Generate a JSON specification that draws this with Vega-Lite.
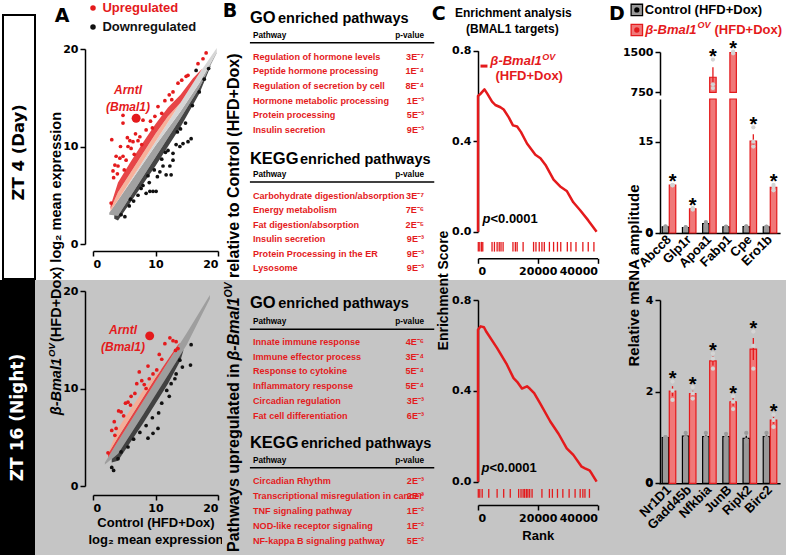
{
"$schema":"https://vega.github.io/schema/vega-lite/v6.json",
"background":"white",
"padding":0,
"spacing":0,
"bounds":"flush",
"columns":5,
"config":{
 "font":"Liberation Sans",
 "view":{"stroke":null},
 "concat":{"spacing":0},
 "axis":{"grid":false,"domainColor":"#000000","domainWidth":1.5,"tickColor":"#000000","tickWidth":1.5,"tickSize":5,"labelColor":"#000000","labelFont":"DejaVu Sans","labelFontSize":11,"labelFontWeight":"bold","labelPadding":2,"labelOverlap":false,"titleFont":"Liberation Sans","titleFontWeight":"bold","titleColor":"#000000","titleFontSize":13},
 "text":{"font":"Liberation Sans","fontWeight":"bold","color":"#000000"}
},
"datasets":{
 "scatter":[
  {"t":"ZT4","c":"up","x":18.1,"y":19.6},{"t":"ZT4","c":"up","x":17.6,"y":19.0},{"t":"ZT4","c":"up","x":16.8,"y":18.5},{"t":"ZT4","c":"up","x":15.2,"y":17.3},{"t":"ZT4","c":"up","x":14.9,"y":17.2},{"t":"ZT4","c":"up","x":14.2,"y":16.8},{"t":"ZT4","c":"up","x":13.6,"y":16.5},{"t":"ZT4","c":"up","x":12.8,"y":15.6},{"t":"ZT4","c":"up","x":12.2,"y":15.3},{"t":"ZT4","c":"up","x":11.5,"y":14.7},{"t":"ZT4","c":"up","x":10.4,"y":14.1},{"t":"ZT4","c":"up","x":9.9,"y":13.1},{"t":"ZT4","c":"up","x":8.5,"y":11.7},{"t":"ZT4","c":"up","x":8.0,"y":12.7},{"t":"ZT4","c":"up","x":4.8,"y":13.2},{"t":"ZT4","c":"up","x":4.8,"y":12.4},{"t":"ZT4","c":"up","x":3.0,"y":10.7},{"t":"ZT4","c":"up","x":4.4,"y":10.0},{"t":"ZT4","c":"up","x":5.5,"y":10.9},{"t":"ZT4","c":"up","x":5.9,"y":10.6},{"t":"ZT4","c":"up","x":6.4,"y":10.5},{"t":"ZT4","c":"up","x":7.2,"y":10.6},{"t":"ZT4","c":"up","x":5.6,"y":10.0},{"t":"ZT4","c":"up","x":6.1,"y":9.8},{"t":"ZT4","c":"up","x":3.7,"y":9.0},{"t":"ZT4","c":"up","x":4.3,"y":8.8},{"t":"ZT4","c":"up","x":4.8,"y":9.0},{"t":"ZT4","c":"up","x":5.3,"y":8.6},{"t":"ZT4","c":"up","x":3.5,"y":8.1},{"t":"ZT4","c":"up","x":4.0,"y":8.0},{"t":"ZT4","c":"up","x":2.9,"y":4.2},{"t":"ZT4","c":"up","x":6.8,"y":11.3},{"t":"ZT4","c":"up","x":7.5,"y":11.0},{"t":"ZT4","c":"up","x":9.2,"y":12.6},{"t":"ZT4","c":"up","x":3.3,"y":6.8},{"t":"ZT4","c":"up","x":3.2,"y":7.5},{"t":"ZT4","c":"up","x":3.9,"y":7.2},{"t":"ZT4","c":"up","x":6.6,"y":9.2},{"t":"ZT4","c":"up","x":7.8,"y":10.2},{"t":"ZT4","c":"up","x":9.5,"y":11.9},{"t":"ZT4","c":"up","x":11.0,"y":13.4},{"t":"ZT4","c":"up","x":12.6,"y":14.8},{"t":"ZT4","c":"up","x":5.0,"y":7.6},
  {"t":"ZT4","c":"down","x":16.5,"y":17.8},{"t":"ZT4","c":"down","x":15.7,"y":10.8},{"t":"ZT4","c":"down","x":15.2,"y":10.5},{"t":"ZT4","c":"down","x":14.4,"y":10.3},{"t":"ZT4","c":"down","x":13.9,"y":10.0},{"t":"ZT4","c":"down","x":12.8,"y":9.3},{"t":"ZT4","c":"down","x":12.8,"y":8.6},{"t":"ZT4","c":"down","x":12.3,"y":8.0},{"t":"ZT4","c":"down","x":12.5,"y":7.1},{"t":"ZT4","c":"down","x":11.7,"y":7.1},{"t":"ZT4","c":"down","x":10.7,"y":7.4},{"t":"ZT4","c":"down","x":10.1,"y":5.4},{"t":"ZT4","c":"down","x":9.6,"y":5.4},{"t":"ZT4","c":"down","x":8.5,"y":5.2},{"t":"ZT4","c":"down","x":9.1,"y":5.4},{"t":"ZT4","c":"down","x":7.7,"y":5.7},{"t":"ZT4","c":"down","x":4.5,"y":3.0},{"t":"ZT4","c":"down","x":5.1,"y":2.8},{"t":"ZT4","c":"down","x":11.2,"y":8.0},{"t":"ZT4","c":"down","x":13.3,"y":10.2},{"t":"ZT4","c":"down","x":14.8,"y":12.4},{"t":"ZT4","c":"down","x":15.9,"y":14.2},{"t":"ZT4","c":"down","x":17.0,"y":15.6},{"t":"ZT4","c":"down","x":10.3,"y":6.9},{"t":"ZT4","c":"down","x":9.0,"y":6.3},{"t":"ZT4","c":"down","x":8.0,"y":6.0},{"t":"ZT4","c":"down","x":6.5,"y":4.4},{"t":"ZT4","c":"down","x":5.8,"y":3.9},{"t":"ZT4","c":"down","x":13.5,"y":11.5},{"t":"ZT4","c":"down","x":12.0,"y":9.6},{"t":"ZT4","c":"down","x":11.0,"y":8.7},{"t":"ZT4","c":"down","x":17.8,"y":16.9},{"t":"ZT4","c":"down","x":18.5,"y":18.0},{"t":"ZT4","c":"down","x":7.2,"y":5.0},{"t":"ZT4","c":"down","x":6.0,"y":4.6},{"t":"ZT4","c":"down","x":8.8,"y":7.0},{"t":"ZT4","c":"down","x":9.8,"y":7.6},{"t":"ZT4","c":"down","x":11.6,"y":9.4},{"t":"ZT4","c":"down","x":14.0,"y":11.8},
  {"t":"ZT4","c":"arntl","x":6.9,"y":12.9},
  {"t":"ZT16","c":"up","x":12.3,"y":15.2},{"t":"ZT16","c":"up","x":12.8,"y":14.9},{"t":"ZT16","c":"up","x":13.3,"y":14.8},{"t":"ZT16","c":"up","x":11.5,"y":14.6},{"t":"ZT16","c":"up","x":13.6,"y":14.1},{"t":"ZT16","c":"up","x":13.2,"y":13.9},{"t":"ZT16","c":"up","x":10.6,"y":13.5},{"t":"ZT16","c":"up","x":8.8,"y":12.3},{"t":"ZT16","c":"up","x":7.4,"y":11.7},{"t":"ZT16","c":"up","x":10.2,"y":11.9},{"t":"ZT16","c":"up","x":9.6,"y":11.5},{"t":"ZT16","c":"up","x":7.0,"y":10.5},{"t":"ZT16","c":"up","x":8.2,"y":10.4},{"t":"ZT16","c":"up","x":8.5,"y":10.0},{"t":"ZT16","c":"up","x":6.7,"y":9.5},{"t":"ZT16","c":"up","x":6.1,"y":9.2},{"t":"ZT16","c":"up","x":5.2,"y":8.5},{"t":"ZT16","c":"up","x":5.6,"y":8.6},{"t":"ZT16","c":"up","x":4.1,"y":7.7},{"t":"ZT16","c":"up","x":4.5,"y":7.6},{"t":"ZT16","c":"up","x":3.4,"y":6.6},{"t":"ZT16","c":"up","x":3.0,"y":5.7},{"t":"ZT16","c":"up","x":3.7,"y":5.9},{"t":"ZT16","c":"up","x":3.5,"y":5.2},{"t":"ZT16","c":"up","x":2.4,"y":3.4},{"t":"ZT16","c":"up","x":7.8,"y":10.8},{"t":"ZT16","c":"up","x":9.0,"y":11.0},{"t":"ZT16","c":"up","x":11.0,"y":13.0},{"t":"ZT16","c":"up","x":4.9,"y":7.2},{"t":"ZT16","c":"up","x":6.0,"y":8.3},
  {"t":"ZT16","c":"down","x":15.7,"y":14.5},{"t":"ZT16","c":"down","x":13.9,"y":12.9},{"t":"ZT16","c":"down","x":15.6,"y":12.4},{"t":"ZT16","c":"down","x":13.3,"y":11.5},{"t":"ZT16","c":"down","x":13.1,"y":11.0},{"t":"ZT16","c":"down","x":10.4,"y":5.9},{"t":"ZT16","c":"down","x":9.6,"y":5.4},{"t":"ZT16","c":"down","x":8.8,"y":4.9},{"t":"ZT16","c":"down","x":5.6,"y":4.0},{"t":"ZT16","c":"down","x":4.5,"y":3.5},{"t":"ZT16","c":"down","x":4.0,"y":2.8},{"t":"ZT16","c":"down","x":3.0,"y":1.9},{"t":"ZT16","c":"down","x":3.3,"y":1.6},{"t":"ZT16","c":"down","x":12.5,"y":10.5},{"t":"ZT16","c":"down","x":11.8,"y":9.8},{"t":"ZT16","c":"down","x":11.0,"y":8.5},{"t":"ZT16","c":"down","x":10.5,"y":7.5},{"t":"ZT16","c":"down","x":9.5,"y":7.0},{"t":"ZT16","c":"down","x":8.5,"y":6.2},{"t":"ZT16","c":"down","x":7.5,"y":5.5},{"t":"ZT16","c":"down","x":6.5,"y":4.8},{"t":"ZT16","c":"down","x":12.2,"y":9.2},{"t":"ZT16","c":"down","x":14.3,"y":12.2},
  {"t":"ZT16","c":"arntl","x":9.07,"y":15.4}
 ],
 "bands":[
  {"t":"ZT4","band":"gray","x":2.6,"lo":3.0,"hi":3.2},{"t":"ZT4","band":"gray","x":4,"lo":2.9,"hi":4.5},{"t":"ZT4","band":"gray","x":10,"lo":8.9,"hi":10.1},{"t":"ZT4","band":"gray","x":14,"lo":12.9,"hi":13.6},{"t":"ZT4","band":"gray","x":17,"lo":16.0,"hi":16.5},{"t":"ZT4","band":"gray","x":19.8,"lo":19.6,"hi":19.7},
  {"t":"ZT4","band":"light","x":4,"lo":4.5,"hi":4.5},{"t":"ZT4","band":"light","x":10,"lo":10.1,"hi":10.5},{"t":"ZT4","band":"light","x":14,"lo":13.6,"hi":14.5},{"t":"ZT4","band":"light","x":17,"lo":16.5,"hi":17.5},{"t":"ZT4","band":"light","x":19.8,"lo":19.7,"hi":20.1},
  {"t":"ZT4","band":"salmon","x":2.8,"lo":3.39,"hi":3.6},{"t":"ZT4","band":"salmon","x":4,"lo":4.5,"hi":5.3},{"t":"ZT4","band":"salmon","x":10,"lo":10.5,"hi":11.3},{"t":"ZT4","band":"salmon","x":12,"lo":12.5,"hi":13.1},{"t":"ZT4","band":"salmon","x":14,"lo":14.5,"hi":14.5},
  {"t":"ZT4","band":"red","x":2.8,"lo":3.6,"hi":3.9},{"t":"ZT4","band":"red","x":4,"lo":5.3,"hi":6.3},{"t":"ZT4","band":"red","x":6,"lo":7.3,"hi":8.4},{"t":"ZT4","band":"red","x":8,"lo":9.3,"hi":10.4},{"t":"ZT4","band":"red","x":10,"lo":11.3,"hi":12.3},{"t":"ZT4","band":"red","x":12,"lo":13.1,"hi":14.0},{"t":"ZT4","band":"red","x":14,"lo":14.5,"hi":15.3},{"t":"ZT4","band":"red","x":16,"lo":16.5,"hi":17.0},{"t":"ZT4","band":"red","x":17.5,"lo":18.0,"hi":18.0},
  {"t":"ZT4","band":"black","x":3.4,"lo":2.6,"hi":2.94},{"t":"ZT4","band":"black","x":4,"lo":2.4,"hi":2.9},{"t":"ZT4","band":"black","x":10,"lo":8.0,"hi":8.9},{"t":"ZT4","band":"black","x":14,"lo":12.0,"hi":12.9},{"t":"ZT4","band":"black","x":17,"lo":15.4,"hi":16.0},{"t":"ZT4","band":"black","x":18.8,"lo":18.2,"hi":18.3},
  {"t":"ZT16","band":"gray","x":1.9,"lo":2.2,"hi":2.4},{"t":"ZT16","band":"gray","x":4,"lo":3.3,"hi":4.6},{"t":"ZT16","band":"gray","x":10,"lo":9.3,"hi":10.7},{"t":"ZT16","band":"gray","x":15,"lo":14.5,"hi":15.7},{"t":"ZT16","band":"gray","x":18.7,"lo":19.2,"hi":19.6},
  {"t":"ZT16","band":"red","x":2.4,"lo":2.92,"hi":3.3},{"t":"ZT16","band":"red","x":4,"lo":4.6,"hi":5.0},{"t":"ZT16","band":"red","x":10,"lo":10.7,"hi":11.1},{"t":"ZT16","band":"red","x":13.6,"lo":14.3,"hi":14.5},{"t":"ZT16","band":"red","x":14,"lo":14.7,"hi":14.7},
  {"t":"ZT16","band":"salmon","x":2.5,"lo":3.35,"hi":3.5},{"t":"ZT16","band":"salmon","x":4,"lo":5.0,"hi":5.9},{"t":"ZT16","band":"salmon","x":8,"lo":9.07,"hi":9.8},{"t":"ZT16","band":"salmon","x":10,"lo":11.1,"hi":11.4},{"t":"ZT16","band":"salmon","x":11,"lo":11.99,"hi":11.99},
  {"t":"ZT16","band":"black","x":3.0,"lo":2.4,"hi":2.78},{"t":"ZT16","band":"black","x":4,"lo":2.6,"hi":3.3},{"t":"ZT16","band":"black","x":8,"lo":6.4,"hi":7.3},{"t":"ZT16","band":"black","x":12,"lo":10.5,"hi":11.38},{"t":"ZT16","band":"black","x":14,"lo":12.9,"hi":13.46},{"t":"ZT16","band":"black","x":14.5,"lo":13.98,"hi":13.98}
 ],
 "gsea":[
  {"t":"ZT4","i":0,"rank":0,"es":0},{"t":"ZT4","i":1,"rank":0,"es":0.60},{"t":"ZT4","i":2,"rank":900,"es":0.61},{"t":"ZT4","i":3,"rank":2170,"es":0.629},{"t":"ZT4","i":4,"rank":3100,"es":0.61},{"t":"ZT4","i":5,"rank":4700,"es":0.575},{"t":"ZT4","i":6,"rank":5800,"es":0.56},{"t":"ZT4","i":7,"rank":7500,"es":0.55},{"t":"ZT4","i":8,"rank":8600,"es":0.54},{"t":"ZT4","i":9,"rank":10300,"es":0.505},{"t":"ZT4","i":10,"rank":11700,"es":0.47},{"t":"ZT4","i":11,"rank":13100,"es":0.465},{"t":"ZT4","i":12,"rank":14400,"es":0.44},{"t":"ZT4","i":13,"rank":16400,"es":0.39},{"t":"ZT4","i":14,"rank":19200,"es":0.34},{"t":"ZT4","i":15,"rank":20900,"es":0.325},{"t":"ZT4","i":16,"rank":22600,"es":0.295},{"t":"ZT4","i":17,"rank":25300,"es":0.23},{"t":"ZT4","i":18,"rank":27500,"es":0.2},{"t":"ZT4","i":19,"rank":29700,"es":0.18},{"t":"ZT4","i":20,"rank":31900,"es":0.13},{"t":"ZT4","i":21,"rank":34200,"es":0.095},{"t":"ZT4","i":22,"rank":36900,"es":0.05},{"t":"ZT4","i":23,"rank":39700,"es":0.0},
  {"t":"ZT16","i":0,"rank":0,"es":0},{"t":"ZT16","i":1,"rank":0,"es":0.669},{"t":"ZT16","i":2,"rank":900,"es":0.684},{"t":"ZT16","i":3,"rank":2000,"es":0.68},{"t":"ZT16","i":4,"rank":2800,"es":0.66},{"t":"ZT16","i":5,"rank":6400,"es":0.588},{"t":"ZT16","i":6,"rank":9700,"es":0.515},{"t":"ZT16","i":7,"rank":11900,"es":0.456},{"t":"ZT16","i":8,"rank":13100,"es":0.44},{"t":"ZT16","i":9,"rank":14700,"es":0.41},{"t":"ZT16","i":10,"rank":16400,"es":0.42},{"t":"ZT16","i":11,"rank":17300,"es":0.41},{"t":"ZT16","i":12,"rank":18800,"es":0.39},{"t":"ZT16","i":13,"rank":20800,"es":0.345},{"t":"ZT16","i":14,"rank":24200,"es":0.265},{"t":"ZT16","i":15,"rank":27000,"es":0.21},{"t":"ZT16","i":16,"rank":29700,"es":0.147},{"t":"ZT16","i":17,"rank":31900,"es":0.118},{"t":"ZT16","i":18,"rank":34700,"es":0.066},{"t":"ZT16","i":19,"rank":35800,"es":0.059},{"t":"ZT16","i":20,"rank":37300,"es":0.05},{"t":"ZT16","i":21,"rank":38000,"es":0.037},{"t":"ZT16","i":22,"rank":39700,"es":0}
 ],
 "hits":[
  {"t":"ZT4","rank":100},{"t":"ZT4","rank":600},{"t":"ZT4","rank":1200},{"t":"ZT4","rank":1600},{"t":"ZT4","rank":4700},{"t":"ZT4","rank":5500},{"t":"ZT4","rank":6400},{"t":"ZT4","rank":7100},{"t":"ZT4","rank":7700},{"t":"ZT4","rank":8400},{"t":"ZT4","rank":11700},{"t":"ZT4","rank":12500},{"t":"ZT4","rank":13100},{"t":"ZT4","rank":15100},{"t":"ZT4","rank":18600},{"t":"ZT4","rank":19400},{"t":"ZT4","rank":20500},{"t":"ZT4","rank":21400},{"t":"ZT4","rank":22200},{"t":"ZT4","rank":23900},{"t":"ZT4","rank":25300},{"t":"ZT4","rank":26600},{"t":"ZT4","rank":27700},{"t":"ZT4","rank":29900},{"t":"ZT4","rank":31100},{"t":"ZT4","rank":32800},{"t":"ZT4","rank":35100},{"t":"ZT4","rank":36900},{"t":"ZT4","rank":38800},
  {"t":"ZT16","rank":100},{"t":"ZT16","rank":600},{"t":"ZT16","rank":1400},{"t":"ZT16","rank":3600},{"t":"ZT16","rank":6400},{"t":"ZT16","rank":8600},{"t":"ZT16","rank":10800},{"t":"ZT16","rank":13600},{"t":"ZT16","rank":14400},{"t":"ZT16","rank":15100},{"t":"ZT16","rank":15600},{"t":"ZT16","rank":16200},{"t":"ZT16","rank":16700},{"t":"ZT16","rank":17300},{"t":"ZT16","rank":18100},{"t":"ZT16","rank":21400},{"t":"ZT16","rank":23900},{"t":"ZT16","rank":24900},{"t":"ZT16","rank":26600},{"t":"ZT16","rank":28400},{"t":"ZT16","rank":30500},{"t":"ZT16","rank":32500},{"t":"ZT16","rank":34200},{"t":"ZT16","rank":35100},{"t":"ZT16","rank":35800},{"t":"ZT16","rank":37300}
 ],
 "paths":[
  {"t":"ZT4","db":"GO","rank":1,"pathway":"Regulation of hormone levels","p":"3E⁻⁷"},
  {"t":"ZT4","db":"GO","rank":2,"pathway":"Peptide hormone processing","p":"1E⁻⁴"},
  {"t":"ZT4","db":"GO","rank":3,"pathway":"Regulation of secretion by cell","p":"8E⁻⁴"},
  {"t":"ZT4","db":"GO","rank":4,"pathway":"Hormone metabolic processing","p":"1E⁻³"},
  {"t":"ZT4","db":"GO","rank":5,"pathway":"Protein processing","p":"5E⁻³"},
  {"t":"ZT4","db":"GO","rank":6,"pathway":"Insulin secretion","p":"9E⁻³"},
  {"t":"ZT4","db":"KEGG","rank":1,"pathway":"Carbohydrate digestion/absorption","p":"3E⁻⁷"},
  {"t":"ZT4","db":"KEGG","rank":2,"pathway":"Energy metabolism","p":"7E⁻⁶"},
  {"t":"ZT4","db":"KEGG","rank":3,"pathway":"Fat digestion/absorption","p":"2E⁻⁵"},
  {"t":"ZT4","db":"KEGG","rank":4,"pathway":"Insulin secretion","p":"9E⁻³"},
  {"t":"ZT4","db":"KEGG","rank":5,"pathway":"Protein Processing in the ER","p":"9E⁻³"},
  {"t":"ZT4","db":"KEGG","rank":6,"pathway":"Lysosome","p":"9E⁻³"},
  {"t":"ZT16","db":"GO","rank":1,"pathway":"Innate immune response","p":"4E⁻⁶"},
  {"t":"ZT16","db":"GO","rank":2,"pathway":"Immune effector process","p":"3E⁻⁴"},
  {"t":"ZT16","db":"GO","rank":3,"pathway":"Response to cytokine","p":"5E⁻⁴"},
  {"t":"ZT16","db":"GO","rank":4,"pathway":"Inflammatory response","p":"5E⁻⁴"},
  {"t":"ZT16","db":"GO","rank":5,"pathway":"Circadian regulation","p":"3E⁻³"},
  {"t":"ZT16","db":"GO","rank":6,"pathway":"Fat cell differentiation","p":"6E⁻³"},
  {"t":"ZT16","db":"KEGG","rank":1,"pathway":"Circadian Rhythm","p":"2E⁻³"},
  {"t":"ZT16","db":"KEGG","rank":2,"pathway":"Transcriptional misregulation in cancer","p":"2E⁻³"},
  {"t":"ZT16","db":"KEGG","rank":3,"pathway":"TNF signaling pathway","p":"1E⁻²"},
  {"t":"ZT16","db":"KEGG","rank":4,"pathway":"NOD-like receptor signaling","p":"1E⁻²"},
  {"t":"ZT16","db":"KEGG","rank":5,"pathway":"NF-kappa B signaling pathway","p":"5E⁻²"}
 ],
 "bars":[
  {"panel":"top","gene":"Abcc8","group":"Control","mean":1.0,"lo":0.95,"hi":1.05},{"panel":"top","gene":"Abcc8","group":"OV","mean":7.85,"lo":7.8,"hi":7.9},
  {"panel":"top","gene":"Glp1r","group":"Control","mean":0.9,"lo":0.87,"hi":0.93},{"panel":"top","gene":"Glp1r","group":"OV","mean":3.95,"lo":3.88,"hi":4.03},
  {"panel":"top","gene":"Apoa1","group":"Control","mean":1.55,"lo":1.4,"hi":1.7},{"panel":"top","gene":"Apoa1","group":"OV","mean":1030,"lo":845,"hi":1215},
  {"panel":"top","gene":"Fabp1","group":"Control","mean":1.0,"lo":0.97,"hi":1.03},{"panel":"top","gene":"Fabp1","group":"OV","mean":1490,"lo":1480,"hi":1500},
  {"panel":"top","gene":"Cpe","group":"Control","mean":1.05,"lo":1.02,"hi":1.08},{"panel":"top","gene":"Cpe","group":"OV","mean":15.1,"lo":14.0,"hi":16.2},
  {"panel":"top","gene":"Ero1b","group":"Control","mean":1.0,"lo":0.97,"hi":1.03},{"panel":"top","gene":"Ero1b","group":"OV","mean":7.5,"lo":7.25,"hi":7.75},
  {"panel":"bottom","gene":"Nr1D1","group":"Control","mean":1.0,"lo":0.99,"hi":1.01},{"panel":"bottom","gene":"Nr1D1","group":"OV","mean":2.01,"lo":1.9,"hi":2.12},
  {"panel":"bottom","gene":"Gadd45b","group":"Control","mean":1.03,"lo":0.99,"hi":1.07},{"panel":"bottom","gene":"Gadd45b","group":"OV","mean":1.96,"lo":1.9,"hi":2.02},
  {"panel":"bottom","gene":"Nfkbia","group":"Control","mean":1.02,"lo":0.98,"hi":1.06},{"panel":"bottom","gene":"Nfkbia","group":"OV","mean":2.67,"lo":2.57,"hi":2.77},
  {"panel":"bottom","gene":"JunB","group":"Control","mean":1.02,"lo":0.98,"hi":1.06},{"panel":"bottom","gene":"JunB","group":"OV","mean":1.78,"lo":1.69,"hi":1.87},
  {"panel":"bottom","gene":"Ripk2","group":"Control","mean":0.98,"lo":0.92,"hi":1.04},{"panel":"bottom","gene":"Ripk2","group":"OV","mean":2.93,"lo":2.69,"hi":3.17},
  {"panel":"bottom","gene":"Birc2","group":"Control","mean":1.02,"lo":0.98,"hi":1.06},{"panel":"bottom","gene":"Birc2","group":"OV","mean":1.38,"lo":1.3,"hi":1.46}
 ],
 "reps":[
  {"panel":"top","gene":"Abcc8","group":"Control","value":1.0},{"panel":"top","gene":"Abcc8","group":"Control","value":1.1},{"panel":"top","gene":"Abcc8","group":"Control","value":0.95},
  {"panel":"top","gene":"Abcc8","group":"OV","value":7.9},{"panel":"top","gene":"Abcc8","group":"OV","value":7.8},{"panel":"top","gene":"Abcc8","group":"OV","value":7.85},
  {"panel":"top","gene":"Glp1r","group":"Control","value":0.9},{"panel":"top","gene":"Glp1r","group":"Control","value":0.95},{"panel":"top","gene":"Glp1r","group":"Control","value":0.85},
  {"panel":"top","gene":"Glp1r","group":"OV","value":4.1},{"panel":"top","gene":"Glp1r","group":"OV","value":3.95},{"panel":"top","gene":"Glp1r","group":"OV","value":3.85},
  {"panel":"top","gene":"Apoa1","group":"Control","value":1.8},{"panel":"top","gene":"Apoa1","group":"Control","value":1.5},{"panel":"top","gene":"Apoa1","group":"Control","value":1.35},
  {"panel":"top","gene":"Apoa1","group":"OV","value":1360},{"panel":"top","gene":"Apoa1","group":"OV","value":900},{"panel":"top","gene":"Apoa1","group":"OV","value":830},
  {"panel":"top","gene":"Fabp1","group":"Control","value":1.0},{"panel":"top","gene":"Fabp1","group":"Control","value":1.05},{"panel":"top","gene":"Fabp1","group":"Control","value":0.95},
  {"panel":"top","gene":"Fabp1","group":"OV","value":1505},{"panel":"top","gene":"Fabp1","group":"OV","value":1490},{"panel":"top","gene":"Fabp1","group":"OV","value":1475},
  {"panel":"top","gene":"Cpe","group":"Control","value":1.05},{"panel":"top","gene":"Cpe","group":"Control","value":1.1},{"panel":"top","gene":"Cpe","group":"Control","value":1.0},
  {"panel":"top","gene":"Cpe","group":"OV","value":17.35},{"panel":"top","gene":"Cpe","group":"OV","value":15.0},{"panel":"top","gene":"Cpe","group":"OV","value":14.2},
  {"panel":"top","gene":"Ero1b","group":"Control","value":1.0},{"panel":"top","gene":"Ero1b","group":"Control","value":1.05},{"panel":"top","gene":"Ero1b","group":"Control","value":0.95},
  {"panel":"top","gene":"Ero1b","group":"OV","value":7.9},{"panel":"top","gene":"Ero1b","group":"OV","value":7.55},{"panel":"top","gene":"Ero1b","group":"OV","value":7.0},
  {"panel":"bottom","gene":"Nr1D1","group":"Control","value":1.0},{"panel":"bottom","gene":"Nr1D1","group":"Control","value":1.0},{"panel":"bottom","gene":"Nr1D1","group":"Control","value":1.0},
  {"panel":"bottom","gene":"Nr1D1","group":"OV","value":2.22},{"panel":"bottom","gene":"Nr1D1","group":"OV","value":2.02},{"panel":"bottom","gene":"Nr1D1","group":"OV","value":1.82},
  {"panel":"bottom","gene":"Gadd45b","group":"Control","value":1.1},{"panel":"bottom","gene":"Gadd45b","group":"Control","value":1.0},{"panel":"bottom","gene":"Gadd45b","group":"Control","value":1.0},
  {"panel":"bottom","gene":"Gadd45b","group":"OV","value":2.1},{"panel":"bottom","gene":"Gadd45b","group":"OV","value":1.96},{"panel":"bottom","gene":"Gadd45b","group":"OV","value":1.85},
  {"panel":"bottom","gene":"Nfkbia","group":"Control","value":1.1},{"panel":"bottom","gene":"Nfkbia","group":"Control","value":1.0},{"panel":"bottom","gene":"Nfkbia","group":"Control","value":0.97},
  {"panel":"bottom","gene":"Nfkbia","group":"OV","value":2.83},{"panel":"bottom","gene":"Nfkbia","group":"OV","value":2.72},{"panel":"bottom","gene":"Nfkbia","group":"OV","value":2.5},
  {"panel":"bottom","gene":"JunB","group":"Control","value":1.08},{"panel":"bottom","gene":"JunB","group":"Control","value":1.0},{"panel":"bottom","gene":"JunB","group":"Control","value":0.98},
  {"panel":"bottom","gene":"JunB","group":"OV","value":1.9},{"panel":"bottom","gene":"JunB","group":"OV","value":1.78},{"panel":"bottom","gene":"JunB","group":"OV","value":1.62},
  {"panel":"bottom","gene":"Ripk2","group":"Control","value":1.1},{"panel":"bottom","gene":"Ripk2","group":"Control","value":0.95},{"panel":"bottom","gene":"Ripk2","group":"Control","value":0.9},
  {"panel":"bottom","gene":"Ripk2","group":"OV","value":3.31},{"panel":"bottom","gene":"Ripk2","group":"OV","value":3.0},{"panel":"bottom","gene":"Ripk2","group":"OV","value":2.5},
  {"panel":"bottom","gene":"Birc2","group":"Control","value":1.1},{"panel":"bottom","gene":"Birc2","group":"Control","value":1.0},{"panel":"bottom","gene":"Birc2","group":"Control","value":0.97},
  {"panel":"bottom","gene":"Birc2","group":"OV","value":1.5},{"panel":"bottom","gene":"Birc2","group":"OV","value":1.38},{"panel":"bottom","gene":"Birc2","group":"OV","value":1.23}
 ]
},
"concat":[
  {"width":85,"height":280,"data":{"values":[{"label":"ZT 4 (Day)"}]},"layer":[
   {"mark":{"type":"rect","fill":"white","stroke":"black","strokeWidth":2},"encoding":{"x":{"datum":0,"type":"quantitative","scale":{"domain":[0,1],"range":[3,35]},"axis":null},"x2":{"datum":1},"y":{"datum":0,"type":"quantitative","scale":{"domain":[0,1],"range":[15,279]},"axis":null},"y2":{"datum":1}}},
   {"mark":{"type":"text","angle":270,"font":"DejaVu Sans","fontSize":16.5,"fontWeight":"bold","color":"black","baseline":"middle"},"encoding":{"x":{"datum":0.5,"type":"quantitative"},"y":{"datum":0.52,"type":"quantitative"},"text":{"field":"label"}}}
  ]},
  {"width":137,"height":280,"layer":[
   {"data":{"name":"bands"},"transform":[{"filter":"datum.t == 'ZT4'"}],"mark":{"type":"area","fillOpacity":0.95},
    "encoding":{"x":{"field":"x","type":"quantitative","scale":{"domain":[0,20],"range":[8,133]},"axis":{"values":[0,10,20],"offset":-29,"title":null}},
     "y":{"field":"lo","type":"quantitative","stack":null,"scale":{"domain":[0,20],"range":[244,49]},"axis":{"values":[0,10,20],"title":null}},
     "y2":{"field":"hi"},
     "color":{"field":"band","type":"nominal","scale":{"domain":["gray","light","salmon","red","black","up","down"],"range":["#9c9c9c","#d4d4d4","#f5ad96","#e63b3d","#3a3a3a","#e41a1c","#111111"]},"legend":null}}},
   {"data":{"name":"scatter"},"transform":[{"filter":"datum.t == 'ZT4' && datum.c != 'arntl'"}],"mark":{"type":"circle","size":14,"opacity":1},
    "encoding":{"x":{"field":"x","type":"quantitative"},"y":{"field":"y","type":"quantitative"},"color":{"field":"c","type":"nominal","scale":{"domain":["gray","light","salmon","red","black","up","down"],"range":["#9c9c9c","#d4d4d4","#f5ad96","#e63b3d","#3a3a3a","#e41a1c","#111111"]},"legend":null}}},
   {"data":{"name":"scatter"},"transform":[{"filter":"datum.t == 'ZT4' && datum.c == 'arntl'"}],"mark":{"type":"circle","size":80,"opacity":1,"color":"#e41a1c"},
    "encoding":{"x":{"field":"x","type":"quantitative"},"y":{"field":"y","type":"quantitative"}}},
   {"data":{"values":[{}]},"mark":{"type":"text","text":"Arntl","fontStyle":"italic","fontSize":12,"color":"#e41a1c"},"encoding":{"x":{"datum":5.6},"y":{"datum":15.8}}},
   {"data":{"values":[{}]},"mark":{"type":"text","text":"(Bmal1)","fontStyle":"italic","fontSize":12,"color":"#e41a1c"},"encoding":{"x":{"datum":5.6},"y":{"datum":14.05}}},
   {"data":{"values":[{}]},"mark":{"type":"circle","size":30,"opacity":1,"color":"#e41a1c"},"encoding":{"x":{"datum":0},"y":{"datum":24.2}}},
   {"data":{"values":[{}]},"mark":{"type":"circle","size":30,"opacity":1,"color":"#111111"},"encoding":{"x":{"datum":0},"y":{"datum":22.26}}},
   {"data":{"values":[{}]},"mark":{"type":"text","text":"Upregulated","align":"left","baseline":"middle","fontSize":13,"color":"#e41a1c"},"encoding":{"x":{"datum":1.5},"y":{"datum":24.2}}},
   {"data":{"values":[{}]},"mark":{"type":"text","text":"Downregulated","align":"left","baseline":"middle","fontSize":13,"color":"#111111"},"encoding":{"x":{"datum":1.5},"y":{"datum":22.26}}},
   {"data":{"values":[{}]},"mark":{"type":"text","text":"A","font":"DejaVu Sans","fontSize":19,"align":"center","baseline":"alphabetic"},"encoding":{"x":{"datum":-4.96},"y":{"datum":22.77}}}
  ]},
  {"width":256,"height":280,"layer":[
   {"layer":[
    {"data":{"name":"paths"},"transform":[{"filter":"datum.t == 'ZT4' && datum.db == 'GO'"}],"mark":{"type":"text","align":"left","baseline":"middle","fontSize":9.1,"color":"#e41a1c"},
     "encoding":{"x":{"datum":0,"type":"quantitative","scale":{"domain":[0,1],"range":[31,202]},"axis":null},"y":{"field":"rank","type":"quantitative","scale":{"domain":[1,6],"range":[56.7,130]},"axis":null},"text":{"field":"pathway"}}},
    {"data":{"name":"paths"},"transform":[{"filter":"datum.t == 'ZT4' && datum.db == 'GO'"}],"mark":{"type":"text","align":"right","baseline":"middle","fontSize":9.1,"color":"#e41a1c"},
     "encoding":{"x":{"datum":1,"type":"quantitative"},"y":{"field":"rank","type":"quantitative"},"text":{"field":"p"}}},
    {"data":{"values":[{}]},"mark":{"type":"text","text":"GO","align":"left","baseline":"alphabetic","fontSize":16.5},"encoding":{"x":{"datum":-0.018},"y":{"datum":-1.32}}},
    {"data":{"values":[{}]},"mark":{"type":"text","text":"enriched pathways","align":"left","baseline":"alphabetic","fontSize":14.5},"encoding":{"x":{"datum":0.146},"y":{"datum":-1.32}}},
    {"data":{"values":[{}]},"mark":{"type":"text","text":"Pathway","align":"left","baseline":"middle","fontSize":8.2},"encoding":{"x":{"datum":0},"y":{"datum":-0.41}}},
    {"data":{"values":[{}]},"mark":{"type":"text","text":"p-value","align":"right","baseline":"middle","fontSize":8.2},"encoding":{"x":{"datum":1},"y":{"datum":-0.41}}},
    {"data":{"values":[{}]},"mark":{"type":"rule","strokeWidth":1.5,"color":"#000000"},"encoding":{"x":{"datum":-0.018},"x2":{"datum":1.06},"y":{"datum":0.045}}},
    {"data":{"values":[{}]},"mark":{"type":"text","text":"B","font":"DejaVu Sans","fontSize":19,"align":"center","baseline":"alphabetic"},"encoding":{"x":{"datum":-0.134},"y":{"datum":-1.74}}}
   ]},
   {"layer":[
    {"data":{"name":"paths"},"transform":[{"filter":"datum.t == 'ZT4' && datum.db == 'KEGG'"}],"mark":{"type":"text","align":"left","baseline":"middle","fontSize":9.1,"color":"#e41a1c"},
     "encoding":{"x":{"datum":0,"type":"quantitative","axis":null},"y":{"field":"rank","type":"quantitative","scale":{"domain":[1,6],"range":[195.7,268.3]},"axis":null},"text":{"field":"pathway"}}},
    {"data":{"name":"paths"},"transform":[{"filter":"datum.t == 'ZT4' && datum.db == 'KEGG'"}],"mark":{"type":"text","align":"right","baseline":"middle","fontSize":9.1,"color":"#e41a1c"},
     "encoding":{"x":{"datum":1,"type":"quantitative"},"y":{"field":"rank","type":"quantitative"},"text":{"field":"p"}}},
    {"data":{"values":[{}]},"mark":{"type":"text","text":"KEGG","align":"left","baseline":"alphabetic","fontSize":16.5},"encoding":{"x":{"datum":-0.018},"y":{"datum":-1.18}}},
    {"data":{"values":[{}]},"mark":{"type":"text","text":"enriched pathways","align":"left","baseline":"alphabetic","fontSize":14.5},"encoding":{"x":{"datum":0.275},"y":{"datum":-1.18}}},
    {"data":{"values":[{}]},"mark":{"type":"text","text":"Pathway","align":"left","baseline":"middle","fontSize":8.2},"encoding":{"x":{"datum":0},"y":{"datum":-0.43}}},
    {"data":{"values":[{}]},"mark":{"type":"text","text":"p-value","align":"right","baseline":"middle","fontSize":8.2},"encoding":{"x":{"datum":1},"y":{"datum":-0.43}}},
    {"data":{"values":[{}]},"mark":{"type":"rule","strokeWidth":1.5,"color":"#000000"},"encoding":{"x":{"datum":-0.018},"x2":{"datum":1.06},"y":{"datum":0.056}}}
   ]}
  ],"resolve":{"scale":{"y":"independent"}}},
  {"width":182,"height":280,"layer":[
   {"data":{"name":"hits"},"transform":[{"filter":"datum.t == 'ZT4'"}],"mark":{"type":"rule","strokeWidth":1.3,"color":"#e41a1c"},
    "encoding":{"x":{"field":"rank","type":"quantitative","scale":{"domain":[0,40000],"range":[0,119.5]},"axis":{"values":[0,20000,40000],"format":"d","offset":-21.7,"title":null}},
     "y":{"datum":-0.045,"type":"quantitative","scale":{"domain":[0,0.8],"range":[231.7,50.7]},"axis":{"values":[0,0.4,0.8],"format":".1f","title":null}},"y2":{"datum":-0.088}}},
   {"data":{"name":"gsea"},"transform":[{"filter":"datum.t == 'ZT4'"}],"mark":{"type":"line","strokeWidth":2.5,"color":"#e41a1c","strokeJoin":"round"},
    "encoding":{"x":{"field":"rank","type":"quantitative"},"y":{"field":"es","type":"quantitative"},"order":{"field":"i","type":"quantitative"}}},
   {"data":{"values":[{}]},"mark":{"type":"rule","strokeWidth":3,"color":"#e41a1c"},"encoding":{"x":{"datum":833},"x2":{"datum":3166},"y":{"datum":0.732}}},
   {"data":{"values":[{}]},"mark":{"type":"text","text":"β-Bmal1","fontStyle":"italic","align":"right","baseline":"alphabetic","fontSize":13,"color":"#e41a1c"},"encoding":{"x":{"datum":21333},"y":{"datum":0.737}}},
   {"data":{"values":[{}]},"mark":{"type":"text","text":"OV","fontStyle":"italic","align":"left","baseline":"alphabetic","fontSize":9,"color":"#e41a1c"},"encoding":{"x":{"datum":21500},"y":{"datum":0.759}}},
   {"data":{"values":[{}]},"mark":{"type":"text","text":"(HFD+Dox)","align":"left","baseline":"alphabetic","fontSize":13,"color":"#e41a1c"},"encoding":{"x":{"datum":5833},"y":{"datum":0.67}}},
   {"data":{"values":[{}]},"mark":{"type":"text","text":"p","fontStyle":"italic","align":"right","baseline":"alphabetic","fontSize":13},"encoding":{"x":{"datum":4166},"y":{"datum":0.04}}},
   {"data":{"values":[{}]},"mark":{"type":"text","text":"<0.0001","align":"left","baseline":"alphabetic","fontSize":13},"encoding":{"x":{"datum":4166},"y":{"datum":0.04}}},
   {"data":{"values":[{}]},"mark":{"type":"text","text":"C","font":"DejaVu Sans","fontSize":19,"align":"center","baseline":"alphabetic"},"encoding":{"x":{"datum":-13166},"y":{"datum":0.936}}},
   {"data":{"values":[{}]},"mark":{"type":"text","text":"Enrichment analysis","align":"center","baseline":"alphabetic","fontSize":12},"encoding":{"x":{"datum":11833},"y":{"datum":0.949}}},
   {"data":{"values":[{}]},"mark":{"type":"text","text":"(BMAL1 targets)","align":"center","baseline":"alphabetic","fontSize":12},"encoding":{"x":{"datum":11500},"y":{"datum":0.878}}},
   {"data":{"values":[{}]},"mark":{"type":"text","text":"D","font":"DejaVu Sans","fontSize":19,"align":"center","baseline":"alphabetic"},"encoding":{"x":{"datum":46500},"y":{"datum":0.936}}},
   {"data":{"values":[{}]},"mark":{"type":"point","shape":"square","size":130,"filled":true,"fill":"#999999","stroke":"#000000","strokeWidth":1.3,"opacity":1},"encoding":{"x":{"datum":53166},"y":{"datum":0.98}}},
   {"data":{"values":[{}]},"mark":{"type":"circle","size":28,"color":"#000000","opacity":1},"encoding":{"x":{"datum":53166},"y":{"datum":0.98}}},
   {"data":{"values":[{}]},"mark":{"type":"point","shape":"square","size":130,"filled":true,"fill":"#f07878","stroke":"#e41a1c","strokeWidth":1.3,"opacity":1},"encoding":{"x":{"datum":53166},"y":{"datum":0.8915}}},
   {"data":{"values":[{}]},"mark":{"type":"circle","size":28,"color":"#e41a1c","opacity":1},"encoding":{"x":{"datum":53166},"y":{"datum":0.8915}}},
   {"data":{"values":[{}]},"mark":{"type":"text","text":"Control (HFD+Dox)","align":"left","baseline":"middle","fontSize":13},"encoding":{"x":{"datum":55833},"y":{"datum":0.98}}},
   {"data":{"values":[{}]},"mark":{"type":"text","text":"β-Bmal1","fontStyle":"italic","align":"right","baseline":"middle","fontSize":13,"color":"#e41a1c"},"encoding":{"x":{"datum":73166},"y":{"datum":0.8915}}},
   {"data":{"values":[{}]},"mark":{"type":"text","text":"OV","fontStyle":"italic","align":"left","baseline":"middle","fontSize":9,"color":"#e41a1c"},"encoding":{"x":{"datum":73500},"y":{"datum":0.9136}}},
   {"data":{"values":[{}]},"mark":{"type":"text","text":"(HFD+Dox)","align":"left","baseline":"middle","fontSize":13,"color":"#e41a1c"},"encoding":{"x":{"datum":79166},"y":{"datum":0.8915}}}
  ]},
  {"width":126,"height":280,"layer":[
   {"layer":[
    {"data":{"name":"bars"},"transform":[{"filter":"datum.panel == 'top' && datum.mean > 100"}],"mark":{"type":"bar","strokeWidth":1.2},
     "encoding":{"x":{"field":"gene","type":"nominal","scale":{"domain":["Abcc8","Glp1r","Apoa1","Fabp1","Cpe","Ero1b"],"range":[-1.1,120.1],"paddingInner":0.33,"paddingOuter":0.165}},
      "xOffset":{"field":"group","type":"nominal","scale":{"domain":["Control","OV"],"paddingInner":0.08}},
      "y":{"field":"mean","type":"quantitative","scale":{"domain":[750,1500],"range":[95,52]},"axis":{"values":[750,1500],"format":"d","title":null,"orient":"left"}},
      "y2":{"datum":750},
      "fill":{"field":"group","type":"nominal","scale":{"domain":["Control","OV"],"range":["#999999","#f07878"]},"legend":null},
      "stroke":{"field":"group","type":"nominal","scale":{"domain":["Control","OV"],"range":["#000000","#e41a1c"]},"legend":null}}},
    {"data":{"name":"bars"},"transform":[{"filter":"datum.panel == 'top' && datum.mean > 100"}],"mark":{"type":"rule","strokeWidth":1.3},
     "encoding":{"x":{"field":"gene","type":"nominal"},"xOffset":{"field":"group","type":"nominal"},"y":{"field":"lo","type":"quantitative"},"y2":{"field":"hi"},"stroke":{"field":"group","type":"nominal"}}},
    {"data":{"name":"reps"},"transform":[{"filter":"datum.panel == 'top' && datum.value > 100"}],"mark":{"type":"circle","size":18,"opacity":1},
     "encoding":{"x":{"field":"gene","type":"nominal"},"xOffset":{"field":"group","type":"nominal"},"y":{"field":"value","type":"quantitative"},"color":{"field":"group","type":"nominal","scale":{"domain":["Control","OV"],"range":["#000000","#e41a1c"]},"legend":null}}},
    {"data":{"name":"reps"},"transform":[{"filter":"datum.panel == 'top' && datum.value > 100 && datum.group == 'OV'"},{"aggregate":[{"op":"max","field":"value","as":"top"}],"groupby":["gene","group"]}],
     "mark":{"type":"text","text":"*","fontSize":20,"dy":3.5,"baseline":"alphabetic"},
     "encoding":{"x":{"field":"gene","type":"nominal"},"xOffset":{"field":"group","type":"nominal"},"y":{"field":"top","type":"quantitative"}}}
   ]},
   {"layer":[
    {"data":{"name":"bars"},"transform":[{"filter":"datum.panel == 'top'"}],"mark":{"type":"bar","strokeWidth":1.2},
     "encoding":{"x":{"field":"gene","type":"nominal","scale":{"domain":["Abcc8","Glp1r","Apoa1","Fabp1","Cpe","Ero1b"],"range":[-1.1,120.1],"paddingInner":0.33,"paddingOuter":0.165},"axis":{"title":null,"offset":-47,"labelAngle":-45,"labelAlign":"right","labelBaseline":"middle","ticks":false,"labelPadding":4,"labelFont":"Liberation Sans","labelFontSize":13}},
      "xOffset":{"field":"group","type":"nominal","scale":{"domain":["Control","OV"],"paddingInner":0.08}},
      "y":{"field":"mean","type":"quantitative","scale":{"domain":[0,20.1],"range":[233,99],"clamp":true},"axis":{"values":[0,15],"format":"d","title":null,"orient":"left"}},
      "fill":{"field":"group","type":"nominal","scale":{"domain":["Control","OV"],"range":["#999999","#f07878"]},"legend":null},
      "stroke":{"field":"group","type":"nominal","scale":{"domain":["Control","OV"],"range":["#000000","#e41a1c"]},"legend":null}}},
    {"data":{"name":"bars"},"transform":[{"filter":"datum.panel == 'top' && datum.mean < 100"}],"mark":{"type":"rule","strokeWidth":1.3},
     "encoding":{"x":{"field":"gene","type":"nominal"},"xOffset":{"field":"group","type":"nominal"},"y":{"field":"lo","type":"quantitative"},"y2":{"field":"hi"},"stroke":{"field":"group","type":"nominal"}}},
    {"data":{"name":"reps"},"transform":[{"filter":"datum.panel == 'top' && datum.value < 100"}],"mark":{"type":"circle","size":18,"opacity":1},
     "encoding":{"x":{"field":"gene","type":"nominal"},"xOffset":{"field":"group","type":"nominal"},"y":{"field":"value","type":"quantitative"},"color":{"field":"group","type":"nominal","scale":{"domain":["Control","OV"],"range":["#000000","#e41a1c"]},"legend":null}}},
    {"data":{"name":"reps"},"transform":[{"filter":"datum.panel == 'top' && datum.value < 100 && datum.group == 'OV'"},{"aggregate":[{"op":"max","field":"value","as":"top"}],"groupby":["gene","group"]}],
     "mark":{"type":"text","text":"*","fontSize":20,"dy":3.5,"baseline":"alphabetic"},
     "encoding":{"x":{"field":"gene","type":"nominal"},"xOffset":{"field":"group","type":"nominal"},"y":{"field":"top","type":"quantitative"}}},
    {"data":{"values":[{}]},"mark":{"type":"text","text":"0","font":"DejaVu Sans","fontSize":11,"fontWeight":"bold","align":"right","baseline":"middle","dx":-16},
     "encoding":{"x":{"datum":"Abcc8","type":"nominal"},"y":{"datum":0,"type":"quantitative"}}}
   ]}
  ],"resolve":{"scale":{"y":"independent"}}},
  {"width":85,"height":275,"view":{"fill":"#c5c5c5","stroke":null},"data":{"values":[{"label":"ZT 16 (Night)"}]},"layer":[
   {"mark":{"type":"rect","fill":"black"},"encoding":{"x":{"datum":0,"type":"quantitative","scale":{"domain":[0,1],"range":[0,35]},"axis":null},"x2":{"datum":1},"y":{"datum":0,"type":"quantitative","scale":{"domain":[0,1],"range":[0,275]},"axis":null},"y2":{"datum":1}}},
   {"mark":{"type":"text","angle":270,"font":"DejaVu Sans","fontSize":17,"fontWeight":"bold","color":"white","baseline":"middle"},"encoding":{"x":{"datum":0.5,"type":"quantitative"},"y":{"datum":0.5,"type":"quantitative"},"text":{"field":"label"}}}
  ]},
  {"width":137,"height":275,"view":{"fill":"#c5c5c5","stroke":null},"layer":[
   {"data":{"name":"bands"},"transform":[{"filter":"datum.t == 'ZT16'"}],"mark":{"type":"area","fillOpacity":0.95},
    "encoding":{"x":{"field":"x","type":"quantitative","scale":{"domain":[0,20],"range":[8,133]},"axis":{"values":[0,10,20],"offset":-60,"title":["Control (HFD+Dox)","log₂ mean expression"],"titleFontSize":13,"titleLineHeight":17,"titlePadding":3}},
     "y":{"field":"lo","type":"quantitative","stack":null,"scale":{"domain":[0,20],"range":[206,11]},"axis":{"values":[0,10,20],"title":null}},
     "y2":{"field":"hi"},
     "color":{"field":"band","type":"nominal","scale":{"domain":["gray","light","salmon","red","black","up","down"],"range":["#a9a9a9","#bababa","#ee9f8c","#e63b3d","#333333","#e41a1c","#111111"]},"legend":null}}},
   {"data":{"name":"scatter"},"transform":[{"filter":"datum.t == 'ZT16' && datum.c != 'arntl'"}],"mark":{"type":"circle","size":14,"opacity":1},
    "encoding":{"x":{"field":"x","type":"quantitative"},"y":{"field":"y","type":"quantitative"},"color":{"field":"c","type":"nominal","scale":{"domain":["gray","light","salmon","red","black","up","down"],"range":["#a9a9a9","#bababa","#ee9f8c","#e63b3d","#333333","#e41a1c","#111111"]},"legend":null}}},
   {"data":{"name":"scatter"},"transform":[{"filter":"datum.t == 'ZT16' && datum.c == 'arntl'"}],"mark":{"type":"circle","size":80,"opacity":1,"color":"#e41a1c"},
    "encoding":{"x":{"field":"x","type":"quantitative"},"y":{"field":"y","type":"quantitative"}}},
   {"data":{"values":[{}]},"mark":{"type":"text","text":"Arntl","fontStyle":"italic","fontSize":12,"color":"#e41a1c"},"encoding":{"x":{"datum":4.8},"y":{"datum":16.0}}},
   {"data":{"values":[{}]},"mark":{"type":"text","text":"(Bmal1)","fontStyle":"italic","fontSize":12,"color":"#e41a1c"},"encoding":{"x":{"datum":4.8},"y":{"datum":14.26}}},
   {"data":{"values":[{}]},"mark":{"type":"text","text":"β-Bmal1","fontStyle":"italic","angle":270,"align":"right","baseline":"middle","fontSize":14.5},"encoding":{"x":{"datum":-5.76},"y":{"datum":13.13}}},
   {"data":{"values":[{}]},"mark":{"type":"text","text":"OV","fontStyle":"italic","angle":270,"align":"left","baseline":"middle","fontSize":9.5},"encoding":{"x":{"datum":-6.56},"y":{"datum":13.23}}},
   {"data":{"values":[{}]},"mark":{"type":"text","text":"(HFD+Dox)  log₂ mean expression","angle":270,"align":"left","baseline":"middle","fontSize":14.5},"encoding":{"x":{"datum":-5.76},"y":{"datum":14.77}}}
  ]},
  {"width":256,"height":275,"view":{"fill":"#c5c5c5","stroke":null},"layer":[
   {"layer":[
    {"data":{"name":"paths"},"transform":[{"filter":"datum.t == 'ZT16' && datum.db == 'GO'"}],"mark":{"type":"text","align":"left","baseline":"middle","fontSize":9.1,"color":"#e41a1c"},
     "encoding":{"x":{"datum":0,"type":"quantitative","scale":{"domain":[0,1],"range":[31,202]},"axis":null},"y":{"field":"rank","type":"quantitative","scale":{"domain":[1,6],"range":[61.7,135.7]},"axis":null},"text":{"field":"pathway"}}},
    {"data":{"name":"paths"},"transform":[{"filter":"datum.t == 'ZT16' && datum.db == 'GO'"}],"mark":{"type":"text","align":"right","baseline":"middle","fontSize":9.1,"color":"#e41a1c"},
     "encoding":{"x":{"datum":1,"type":"quantitative"},"y":{"field":"rank","type":"quantitative"},"text":{"field":"p"}}},
    {"data":{"values":[{}]},"mark":{"type":"text","text":"GO","align":"left","baseline":"alphabetic","fontSize":16.5},"encoding":{"x":{"datum":-0.018},"y":{"datum":-1.30}}},
    {"data":{"values":[{}]},"mark":{"type":"text","text":"enriched pathways","align":"left","baseline":"alphabetic","fontSize":14.5},"encoding":{"x":{"datum":0.148},"y":{"datum":-1.30}}},
    {"data":{"values":[{}]},"mark":{"type":"text","text":"Pathway","align":"left","baseline":"middle","fontSize":8.2},"encoding":{"x":{"datum":0},"y":{"datum":-0.35}}},
    {"data":{"values":[{}]},"mark":{"type":"text","text":"p-value","align":"right","baseline":"middle","fontSize":8.2},"encoding":{"x":{"datum":1},"y":{"datum":-0.35}}},
    {"data":{"values":[{}]},"mark":{"type":"rule","strokeWidth":1.5,"color":"#000000"},"encoding":{"x":{"datum":-0.018},"x2":{"datum":1.06},"y":{"datum":0.16}}},
    {"data":{"values":[{}]},"mark":{"type":"text","text":"Pathways upregulated in","angle":270,"align":"left","baseline":"middle","fontSize":16},"encoding":{"x":{"datum":-0.111},"y":{"datum":15.21}}},
    {"data":{"values":[{}]},"mark":{"type":"text","text":"β-Bmal1","fontStyle":"italic","angle":270,"align":"left","baseline":"middle","fontSize":16},"encoding":{"x":{"datum":-0.111},"y":{"datum":2.277}}},
    {"data":{"values":[{}]},"mark":{"type":"text","text":"OV","fontStyle":"italic","angle":270,"align":"left","baseline":"middle","fontSize":10.5},"encoding":{"x":{"datum":-0.14},"y":{"datum":-1.98}}},
    {"data":{"values":[{}]},"mark":{"type":"text","text":"relative to Control (HFD+Dox)","angle":270,"align":"left","baseline":"middle","fontSize":16},"encoding":{"x":{"datum":-0.111},"y":{"datum":-3.304}}}
   ]},
   {"layer":[
    {"data":{"name":"paths"},"transform":[{"filter":"datum.t == 'ZT16' && datum.db == 'KEGG'"}],"mark":{"type":"text","align":"left","baseline":"middle","fontSize":9.1,"color":"#e41a1c"},
     "encoding":{"x":{"datum":0,"type":"quantitative","axis":null},"y":{"field":"rank","type":"quantitative","scale":{"domain":[1,5],"range":[200.7,260.7]},"axis":null},"text":{"field":"pathway"}}},
    {"data":{"name":"paths"},"transform":[{"filter":"datum.t == 'ZT16' && datum.db == 'KEGG'"}],"mark":{"type":"text","align":"right","baseline":"middle","fontSize":9.1,"color":"#e41a1c"},
     "encoding":{"x":{"datum":1,"type":"quantitative"},"y":{"field":"rank","type":"quantitative"},"text":{"field":"p"}}},
    {"data":{"values":[{}]},"mark":{"type":"text","text":"KEGG","align":"left","baseline":"alphabetic","fontSize":16.5},"encoding":{"x":{"datum":-0.018},"y":{"datum":-1.2}}},
    {"data":{"values":[{}]},"mark":{"type":"text","text":"enriched pathways","align":"left","baseline":"alphabetic","fontSize":14.5},"encoding":{"x":{"datum":0.28},"y":{"datum":-1.2}}},
    {"data":{"values":[{}]},"mark":{"type":"text","text":"Pathway","align":"left","baseline":"middle","fontSize":8.2},"encoding":{"x":{"datum":0},"y":{"datum":-0.33}}},
    {"data":{"values":[{}]},"mark":{"type":"text","text":"p-value","align":"right","baseline":"middle","fontSize":8.2},"encoding":{"x":{"datum":1},"y":{"datum":-0.33}}},
    {"data":{"values":[{}]},"mark":{"type":"rule","strokeWidth":1.5,"color":"#000000"},"encoding":{"x":{"datum":-0.018},"x2":{"datum":1.06},"y":{"datum":0.13}}}
   ]}
  ],"resolve":{"scale":{"y":"independent"}}},
  {"width":182,"height":275,"view":{"fill":"#c5c5c5","stroke":null},"layer":[
   {"data":{"name":"hits"},"transform":[{"filter":"datum.t == 'ZT16'"}],"mark":{"type":"rule","strokeWidth":1.3,"color":"#e41a1c"},
    "encoding":{"x":{"field":"rank","type":"quantitative","scale":{"domain":[0,40000],"range":[0,119.5]},"axis":{"values":[0,20000,40000],"format":"d","offset":-50,"title":"Rank","titleFontSize":13,"titlePadding":6}},
     "y":{"datum":-0.032,"type":"quantitative","scale":{"domain":[0,0.8],"range":[201.7,20]},"axis":{"values":[0,0.4,0.8],"format":".1f","title":"Enrichment Score","titleFontSize":14,"titleX":-35,"titleY":10,"titleBaseline":"middle"}},"y2":{"datum":-0.071}}},
   {"data":{"name":"gsea"},"transform":[{"filter":"datum.t == 'ZT16'"}],"mark":{"type":"line","strokeWidth":2.5,"color":"#e41a1c","strokeJoin":"round"},
    "encoding":{"x":{"field":"rank","type":"quantitative"},"y":{"field":"es","type":"quantitative"},"order":{"field":"i","type":"quantitative"}}},
   {"data":{"values":[{}]},"mark":{"type":"text","text":"p","fontStyle":"italic","align":"right","baseline":"alphabetic","fontSize":13},"encoding":{"x":{"datum":3833},"y":{"datum":0.044}}},
   {"data":{"values":[{}]},"mark":{"type":"text","text":"<0.0001","align":"left","baseline":"alphabetic","fontSize":13},"encoding":{"x":{"datum":3833},"y":{"datum":0.044}}}
  ]},
  {"width":126,"height":275,"view":{"fill":"#c5c5c5","stroke":null},"layer":[
   {"data":{"name":"bars"},"transform":[{"filter":"datum.panel == 'bottom'"}],"mark":{"type":"bar","strokeWidth":1.2},
    "encoding":{"x":{"field":"gene","type":"nominal","scale":{"domain":["Nr1D1","Gadd45b","Nfkbia","JunB","Ripk2","Birc2"],"range":[-1.1,120.1],"paddingInner":0.33,"paddingOuter":0.165},"axis":{"title":null,"offset":-71.7,"labelAngle":-45,"labelAlign":"right","labelBaseline":"middle","ticks":false,"labelPadding":4,"labelFont":"Liberation Sans","labelFontSize":13}},
     "xOffset":{"field":"group","type":"nominal","scale":{"domain":["Control","OV"],"paddingInner":0.08}},
     "y":{"field":"mean","type":"quantitative","scale":{"domain":[0,4],"range":[203.3,20]},"axis":{"values":[0,2,4],"format":"d","title":"Relative mRNA amplitude","titleFontSize":15,"titleX":-27,"titleY":-5,"titleBaseline":"middle"}},
     "fill":{"field":"group","type":"nominal","scale":{"domain":["Control","OV"],"range":["#999999","#f07878"]},"legend":null},
     "stroke":{"field":"group","type":"nominal","scale":{"domain":["Control","OV"],"range":["#000000","#e41a1c"]},"legend":null}}},
   {"data":{"name":"bars"},"transform":[{"filter":"datum.panel == 'bottom'"}],"mark":{"type":"rule","strokeWidth":1.3},
    "encoding":{"x":{"field":"gene","type":"nominal"},"xOffset":{"field":"group","type":"nominal"},"y":{"field":"lo","type":"quantitative"},"y2":{"field":"hi"},"stroke":{"field":"group","type":"nominal"}}},
   {"data":{"name":"reps"},"transform":[{"filter":"datum.panel == 'bottom'"}],"mark":{"type":"circle","size":18,"opacity":1},
    "encoding":{"x":{"field":"gene","type":"nominal"},"xOffset":{"field":"group","type":"nominal"},"y":{"field":"value","type":"quantitative"},"color":{"field":"group","type":"nominal","scale":{"domain":["Control","OV"],"range":["#000000","#e41a1c"]},"legend":null}}},
   {"data":{"name":"reps"},"transform":[{"filter":"datum.panel == 'bottom' && datum.group == 'OV'"},{"aggregate":[{"op":"max","field":"value","as":"top"}],"groupby":["gene","group"]}],
    "mark":{"type":"text","text":"*","fontSize":20,"dy":3.5,"baseline":"alphabetic"},
    "encoding":{"x":{"field":"gene","type":"nominal"},"xOffset":{"field":"group","type":"nominal"},"y":{"field":"top","type":"quantitative"}}},
   {"data":{"values":[{}]},"mark":{"type":"text","text":"0","font":"DejaVu Sans","fontSize":11,"fontWeight":"bold","align":"right","baseline":"middle","dx":-16},
    "encoding":{"x":{"datum":"Nr1D1","type":"nominal"},"y":{"datum":0,"type":"quantitative"}}}
  ]}
]
}
